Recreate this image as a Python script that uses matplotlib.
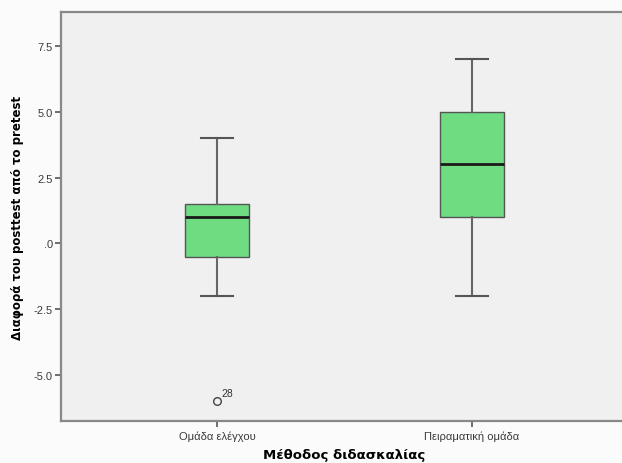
import numpy as np
import matplotlib
matplotlib.use("Agg")
import matplotlib.pyplot as plt

# Data
groups = ['Ομάδα ελέγχου', 'Πειραματική ομάδα']
whislo = [-2.0, -2.0]
q1 = [-0.5, 1.0]
med = [1.0, 3.0]
q3 = [1.5, 5.0]
whishi = [4.0, 7.0]
fliers = [[-6.0], []]
flier_ids = [['28'], []]

yticks = [-5.0, -2.5, 0.0, 2.5, 5.0, 7.5]
ytick_labels = ['-5.0', '-2.5', '.0', '2.5', '5.0', '7.5']

plt.rcParams['font.family'] = ['Liberation Sans', 'DejaVu Sans']

fig = plt.figure(figsize=(6.22, 4.64), dpi=100, facecolor='#fbfbfb')
ax = fig.add_axes([61 / 622, 42 / 464, 567 / 622, 409 / 464])
ax.set_facecolor('#f0f0f0')

stats = []
for i in range(len(groups)):
    stats.append({'med': med[i], 'q1': q1[i], 'q3': q3[i],
                  'whislo': whislo[i], 'whishi': whishi[i],
                  'fliers': fliers[i], 'label': groups[i]})

positions = np.arange(1, len(groups) + 1)
bp = ax.bxp(stats, positions=positions, widths=0.25, capwidths=0.125,
            patch_artist=True, showfliers=True,
            boxprops=dict(facecolor='#6fdc82', edgecolor='#555555', linewidth=1.0),
            medianprops=dict(color='#1a1a1a', linewidth=2.0),
            whiskerprops=dict(color='#666666', linewidth=1.5),
            capprops=dict(color='#555555', linewidth=1.5),
            flierprops=dict(marker='o', markersize=5.5, markerfacecolor='none',
                            markeredgecolor='#444444', markeredgewidth=1.0))

# outlier case labels
for i, pos in enumerate(positions):
    for val, lab in zip(fliers[i], flier_ids[i]):
        ax.annotate(lab, (pos, val), xytext=(3, 4), textcoords='offset points',
                    fontsize=7.5, color='#333333')

ax.set_xlim(1 - 156 / 255, 2 + 156 / 255)
ax.set_ylim(-6.75, 8.79)
ax.set_yticks(yticks)
ax.set_yticklabels(ytick_labels)
ax.set_xticks(positions)
ax.set_xticklabels(groups)

ax.tick_params(axis='both', labelsize=8, length=4, width=1.2,
               colors='#555555', direction='out')
ax.tick_params(axis='y', pad=2)
ax.tick_params(axis='x', pad=3)
for lab in ax.get_yticklabels() + ax.get_xticklabels():
    lab.set_color('#3a3a3a')

for side in ['left', 'bottom', 'top']:
    ax.spines[side].set_color('#888888')
    ax.spines[side].set_linewidth(1.6)
ax.spines['right'].set_visible(False)

ax.set_ylabel('Διαφορά του posttest από το pretest', fontsize=8.5,
              fontweight='bold', family=['DejaVu Sans'], labelpad=7)
ax.set_xlabel('Μέθοδος διδασκαλίας', fontsize=9.5, fontweight='bold',
              family=['DejaVu Sans'], labelpad=5)

fig.savefig('out.png', dpi=100, facecolor=fig.get_facecolor())
